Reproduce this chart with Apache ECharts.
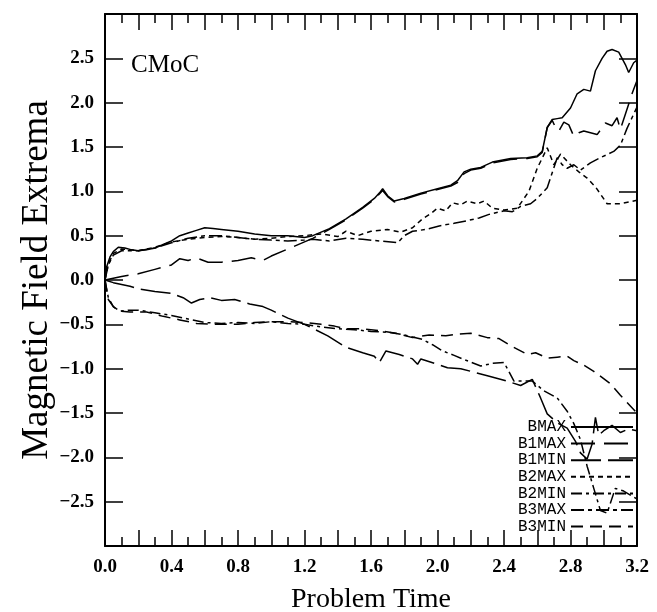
<!DOCTYPE html>
<html>
<head>
<meta charset="utf-8">
<script src="https://cdn.jsdelivr.net/npm/echarts@6/dist/echarts.min.js"></script>
<style>
html,body{margin:0;padding:0;background:#fff;}
#chart{width:657px;height:612px;}
</style>
</head>
<body>
<div id="chart"></div>
<script>
// ---- data (time, value) ----
const seriesNames = ['BMAX','B1MAX','B1MIN','B2MAX','B2MIN','B3MAX','B3MIN'];
const xTickLabels = ['0.0','0.4','0.8','1.2','1.6','2.0','2.4','2.8','3.2'];
const yTickLabels = ['-2.5','-2.0','-1.5','-1.0','-0.5','0.0','0.5','1.0','1.5','2.0','2.5'];

const bmax = [[0,0],[0.01,0.15],[0.03,0.26],[0.05,0.32],[0.08,0.37],[0.12,0.36],[0.16,0.34],[0.2,0.33],[0.25,0.34],[0.3,0.36],[0.35,0.4],[0.4,0.44],[0.45,0.5],[0.5,0.53],[0.55,0.56],[0.6,0.59],[0.65,0.58],[0.7,0.57],[0.8,0.55],[0.9,0.52],[1.0,0.5],[1.1,0.5],[1.2,0.48],[1.25,0.5],[1.35,0.58],[1.45,0.69],[1.55,0.82],[1.62,0.92],[1.65,0.98],[1.67,1.03],[1.7,0.95],[1.74,0.89],[1.8,0.92],[1.9,0.98],[2.0,1.03],[2.08,1.07],[2.12,1.12],[2.16,1.22],[2.2,1.25],[2.26,1.27],[2.33,1.33],[2.44,1.37],[2.54,1.38],[2.6,1.4],[2.63,1.45],[2.66,1.72],[2.69,1.81],[2.72,1.82],[2.75,1.83],[2.8,1.94],[2.84,2.1],[2.88,2.15],[2.92,2.13],[2.95,2.36],[2.99,2.5],[3.02,2.58],[3.05,2.6],[3.09,2.57],[3.13,2.43],[3.15,2.34],[3.18,2.45],[3.2,2.48]];

const b1max = [[0,0],[0.05,0.02],[0.1,0.04],[0.2,0.07],[0.3,0.12],[0.4,0.17],[0.45,0.24],[0.5,0.22],[0.55,0.25],[0.62,0.2],[0.7,0.2],[0.8,0.22],[0.88,0.25],[0.95,0.22],[1.0,0.27],[1.1,0.35],[1.2,0.43],[1.25,0.47],[1.35,0.57],[1.45,0.68],[1.55,0.81],[1.62,0.91],[1.67,1.01],[1.7,0.94],[1.74,0.88],[1.8,0.91],[1.9,0.97],[2.0,1.02],[2.08,1.06],[2.12,1.1],[2.16,1.2],[2.2,1.24],[2.26,1.26],[2.33,1.32],[2.44,1.36],[2.54,1.37],[2.6,1.39],[2.63,1.44],[2.66,1.72],[2.69,1.8],[2.71,1.72],[2.73,1.68],[2.76,1.78],[2.79,1.75],[2.82,1.62],[2.85,1.66],[2.88,1.68],[2.96,1.64],[3.01,1.77],[3.05,1.74],[3.08,1.83],[3.1,1.7],[3.13,1.87],[3.17,2.1],[3.2,2.25]];

const b1min = [[0,0],[0.05,-0.03],[0.1,-0.05],[0.15,-0.07],[0.2,-0.1],[0.3,-0.13],[0.4,-0.15],[0.47,-0.2],[0.52,-0.26],[0.57,-0.22],[0.63,-0.2],[0.7,-0.23],[0.78,-0.22],[0.87,-0.27],[0.95,-0.3],[1.0,-0.34],[1.1,-0.43],[1.2,-0.5],[1.34,-0.63],[1.45,-0.76],[1.55,-0.82],[1.62,-0.86],[1.65,-0.93],[1.69,-0.8],[1.77,-0.84],[1.85,-0.89],[1.88,-0.95],[1.9,-0.89],[2.0,-0.95],[2.06,-0.99],[2.14,-1.0],[2.3,-1.08],[2.4,-1.13],[2.5,-1.19],[2.57,-1.12],[2.62,-1.33],[2.66,-1.51],[2.72,-1.61],[2.78,-1.67],[2.83,-1.82],[2.86,-1.95],[2.9,-2.02],[2.93,-1.85],[2.95,-1.55],[2.97,-1.75],[3.0,-1.7],[3.05,-1.64],[3.1,-1.72],[3.15,-1.68],[3.2,-1.7]];

const b2max = [[0,0],[0.02,0.18],[0.05,0.3],[0.1,0.35],[0.15,0.34],[0.2,0.33],[0.3,0.37],[0.4,0.43],[0.5,0.46],[0.6,0.48],[0.7,0.49],[0.8,0.48],[0.9,0.46],[1.0,0.47],[1.1,0.49],[1.2,0.5],[1.3,0.52],[1.4,0.49],[1.45,0.55],[1.52,0.5],[1.6,0.55],[1.7,0.57],[1.78,0.54],[1.85,0.59],[1.91,0.69],[1.96,0.75],[2.0,0.81],[2.05,0.78],[2.09,0.87],[2.14,0.85],[2.18,0.89],[2.24,0.86],[2.28,0.89],[2.33,0.81],[2.4,0.79],[2.48,0.81],[2.55,1.0],[2.6,1.26],[2.66,1.49],[2.7,1.3],[2.74,1.42],[2.8,1.3],[2.85,1.22],[2.9,1.15],[2.95,1.05],[2.98,0.97],[3.02,0.86],[3.1,0.86],[3.2,0.9]];

const b2min = [[0,0],[0.02,-0.2],[0.05,-0.3],[0.09,-0.35],[0.15,-0.34],[0.2,-0.34],[0.3,-0.37],[0.4,-0.4],[0.5,-0.44],[0.6,-0.48],[0.7,-0.49],[0.8,-0.48],[0.9,-0.49],[1.0,-0.47],[1.1,-0.49],[1.2,-0.5],[1.3,-0.53],[1.4,-0.55],[1.5,-0.56],[1.6,-0.58],[1.71,-0.59],[1.8,-0.62],[1.91,-0.67],[1.97,-0.73],[2.03,-0.8],[2.1,-0.85],[2.15,-0.89],[2.26,-0.97],[2.33,-0.94],[2.4,-0.93],[2.46,-1.14],[2.57,-1.14],[2.64,-1.25],[2.72,-1.33],[2.78,-1.48],[2.82,-1.62],[2.86,-1.8],[2.9,-2.1],[2.94,-2.35],[2.98,-2.6],[3.02,-2.63],[3.05,-2.46],[3.07,-2.35],[3.12,-2.38],[3.2,-2.47]];

const b3max = [[0,0],[0.02,0.17],[0.05,0.28],[0.1,0.33],[0.2,0.33],[0.3,0.36],[0.4,0.42],[0.5,0.47],[0.6,0.5],[0.7,0.5],[0.8,0.48],[0.9,0.46],[1.0,0.45],[1.1,0.44],[1.2,0.45],[1.25,0.46],[1.35,0.44],[1.45,0.47],[1.55,0.46],[1.65,0.44],[1.76,0.42],[1.8,0.5],[1.85,0.55],[1.93,0.57],[2.01,0.61],[2.1,0.64],[2.18,0.67],[2.25,0.7],[2.31,0.74],[2.4,0.78],[2.45,0.77],[2.5,0.83],[2.56,0.86],[2.6,0.92],[2.66,1.04],[2.72,1.38],[2.75,1.3],[2.78,1.26],[2.82,1.3],[2.86,1.24],[2.92,1.32],[2.98,1.38],[3.06,1.45],[3.1,1.52],[3.14,1.71],[3.2,1.95]];

const b3min = [[0,0],[0.02,-0.22],[0.05,-0.3],[0.08,-0.35],[0.15,-0.36],[0.25,-0.36],[0.35,-0.41],[0.45,-0.45],[0.55,-0.49],[0.65,-0.5],[0.8,-0.5],[0.9,-0.48],[1.0,-0.47],[1.1,-0.47],[1.2,-0.48],[1.3,-0.5],[1.38,-0.52],[1.45,-0.55],[1.55,-0.55],[1.65,-0.57],[1.75,-0.6],[1.85,-0.65],[1.95,-0.62],[2.05,-0.63],[2.12,-0.61],[2.2,-0.6],[2.3,-0.65],[2.37,-0.66],[2.44,-0.74],[2.54,-0.84],[2.59,-0.82],[2.66,-0.88],[2.72,-0.87],[2.78,-0.86],[2.82,-0.91],[2.88,-0.96],[2.94,-1.03],[3.04,-1.17],[3.1,-1.3],[3.16,-1.42],[3.2,-1.5]];

const seriesData = [bmax, b1max, b1min, b2max, b2min, b3max, b3min];
const dashes = ['solid', [24,9], [30,7], [5,4], [11,4,3,4], [13,4,4,4], [12,7]];

const chart = echarts.init(document.getElementById('chart'), null, {renderer:'canvas'});

const fmtX = v => {
  const s = v.toFixed(1);
  return xTickLabels.indexOf(s) >= 0 ? s : '';
};
const fmtY = v => {
  const s = v.toFixed(1);
  if (yTickLabels.indexOf(s) < 0) return '';
  return v < 0 ? '\u2212' + Math.abs(v).toFixed(1) : s;
};
const tickFont = {fontFamily:'Liberation Serif', fontWeight:'bold', fontSize:19, color:'#000'};
const axLine = {show:true, onZero:false, lineStyle:{color:'#000', width:2}};

function xAx(pos, labels) {
  return {
    type:'value', min:0, max:3.2, interval:0.2, position:pos,
    axisLine: axLine,
    axisTick:{show:true, inside:true, length:16, lineStyle:{color:'#000', width:1.5}},
    minorTick:{show:true, splitNumber:2, length:9, lineStyle:{color:'#000', width:1.5}},
    splitLine:{show:false}, minorSplitLine:{show:false},
    axisLabel: labels ? Object.assign({show:true, formatter:fmtX, margin:12, showMinLabel:true, showMaxLabel:true, hideOverlap:false}, tickFont) : {show:false},
    name: labels ? 'Problem Time' : '',
    nameLocation:'middle', nameGap:40, nameMoveOverlap:false,
    nameTextStyle:{fontFamily:'Liberation Serif', fontSize:28, color:'#000'}
  };
}
function yAx(pos, labels) {
  return {
    type:'value', min:-3, max:3, interval:0.5, position:pos,
    axisLine: axLine,
    axisTick:{show:true, inside:true, length:18, lineStyle:{color:'#000', width:1.5}},
    splitLine:{show:false},
    axisLabel: labels ? Object.assign({show:true, formatter:fmtY, margin:11, showMinLabel:true, showMaxLabel:true}, tickFont) : {show:false},
    name: labels ? 'Magnetic Field Extrema' : '',
    nameLocation:'middle', nameGap:49, nameRotate:90, nameMoveOverlap:false,
    nameTextStyle:{fontFamily:'Liberation Serif', fontSize:37, color:'#000'}
  };
}

const option = {
  animation:false,
  backgroundColor:'#fff',
  grid:{left:105, top:14, width:532, height:532, containLabel:false, outerBoundsMode:'none'},
  xAxis:[xAx('bottom', true), xAx('top', false)],
  yAxis:[yAx('left', true), yAx('right', false)],
  legend:{
    orient:'vertical', right:23, top:419, align:'right', padding:0,
    itemWidth:62, itemHeight:10, itemGap:0.6,
    data: seriesNames,
    itemStyle:{opacity:0, color:'transparent', borderWidth:0},
    textStyle:{fontFamily:'Liberation Mono', fontSize:16, color:'#000', lineHeight:14}
  },
  graphic:[{
    type:'text', left:131, top:53,
    style:{text:'CMoC', font:'25px "Liberation Serif"', fill:'#000'}
  }],
  series: seriesNames.map((n, i) => ({
    name:n, type:'line', xAxisIndex:0, yAxisIndex:0,
    data: seriesData[i], symbol:'none', showSymbol:false,
    lineStyle:{color:'#000', width:1.5, type:dashes[i]},
    itemStyle:{color:'#000'}
  }))
};
chart.setOption(option);
</script>
</body>
</html>
